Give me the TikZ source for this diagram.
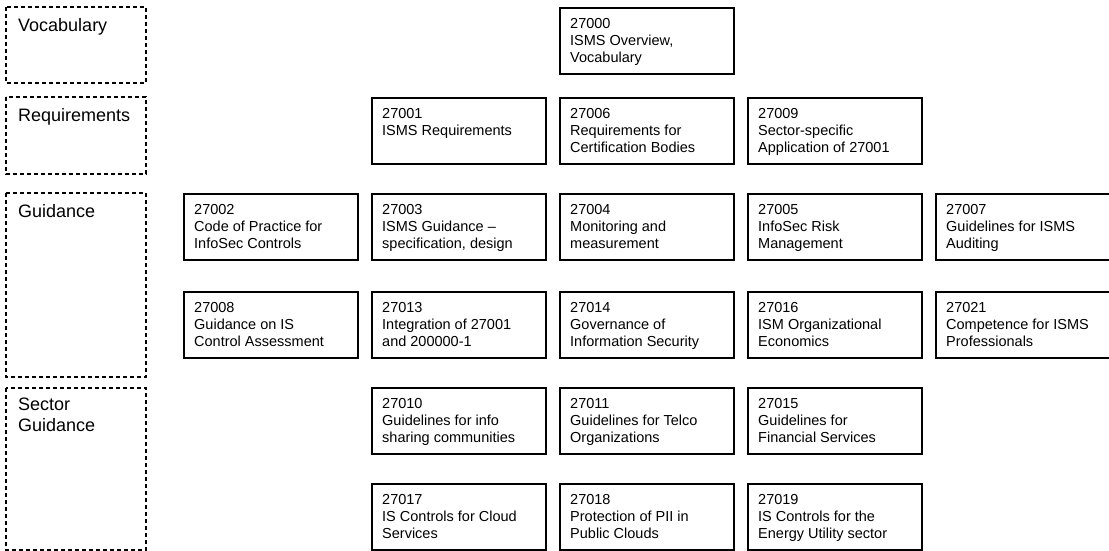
\documentclass[tikz,border=0pt]{standalone}
\usepackage{fontspec}
\setmainfont{Liberation Sans}
\usetikzlibrary{calc}
\tikzset{
    group box/.style={draw, line width=1.5pt, dash pattern=on 4pt off 3pt},
    group text/.style={anchor=north west, align=left, inner sep=0pt,
        font=\fontsize{18}{21}\selectfont, execute at begin node=\strut},
    std box/.style={draw, line width=1.6pt, anchor=north west, inner sep=0pt,
        minimum width=174pt, minimum height=66pt},
    std text/.style={anchor=north west, align=left, inner sep=0pt,
        font=\fontsize{14.5}{17}\selectfont, execute at begin node=\strut}
}

\begin{document}
\begin{tikzpicture}[x=1pt, y=-1pt]

\useasboundingbox (0,0) rectangle (1109,551);

% Grupos (columna izquierda)
\draw[group box] (6,7) rectangle (146,83);
\draw[group box] (6,97) rectangle (146,174);
\draw[group box] (6,193) rectangle (146,377);
\draw[group box] (6,388) rectangle (146,550);

\node[group text] (gvoc) at (18,17) {Vocabulary};
\node[group text] (greq) at (18,107) {Requirements};
\node[group text] (ggui) at (18,203) {Guidance};
\node[group text] (gsec) at (18,398) {Sector\\Guidance};

% Vocabulario
\node[std box] (b27000) at (559,7) {};
\node[std text] (t27000) at ($(b27000.north west)+(11,11)$) {27000\\ISMS Overview,\\Vocabulary};

% Requisitos
\node[std box] (b27001) at (371,97) {};
\node[std text] (t27001) at ($(b27001.north west)+(11,11)$) {27001\\ISMS Requirements};
\node[std box] (b27006) at (559,97) {};
\node[std text] (t27006) at ($(b27006.north west)+(11,11)$) {27006\\Requirements for\\Certification Bodies};
\node[std box] (b27009) at (747,97) {};
\node[std text] (t27009) at ($(b27009.north west)+(11,11)$) {27009\\Sector-specific\\Application of 27001};

% Guias
\node[std box] (b27002) at (183,193) {};
\node[std text] (t27002) at ($(b27002.north west)+(11,11)$) {27002\\Code of Practice for\\InfoSec Controls};
\node[std box] (b27003) at (371,193) {};
\node[std text] (t27003) at ($(b27003.north west)+(11,11)$) {27003\\ISMS Guidance --\\specification, design};
\node[std box] (b27004) at (559,193) {};
\node[std text] (t27004) at ($(b27004.north west)+(11,11)$) {27004\\Monitoring and\\measurement};
\node[std box] (b27005) at (747,193) {};
\node[std text] (t27005) at ($(b27005.north west)+(11,11)$) {27005\\InfoSec Risk\\Management};
\node[std box] (b27007) at (935,193) {};
\node[std text] (t27007) at ($(b27007.north west)+(11,11)$) {27007\\Guidelines for ISMS\\Auditing};

\node[std box] (b27008) at (183,291) {};
\node[std text] (t27008) at ($(b27008.north west)+(11,11)$) {27008\\Guidance on IS\\Control Assessment};
\node[std box] (b27013) at (371,291) {};
\node[std text] (t27013) at ($(b27013.north west)+(11,11)$) {27013\\Integration of 27001\\and 200000-1};
\node[std box] (b27014) at (559,291) {};
\node[std text] (t27014) at ($(b27014.north west)+(11,11)$) {27014\\Governance of\\Information Security};
\node[std box] (b27016) at (747,291) {};
\node[std text] (t27016) at ($(b27016.north west)+(11,11)$) {27016\\ISM Organizational\\Economics};
\node[std box] (b27021) at (935,291) {};
\node[std text] (t27021) at ($(b27021.north west)+(11,11)$) {27021\\Competence for ISMS\\Professionals};

% Guias sectoriales
\node[std box] (b27010) at (371,387) {};
\node[std text] (t27010) at ($(b27010.north west)+(11,11)$) {27010\\Guidelines for info\\sharing communities};
\node[std box] (b27011) at (559,387) {};
\node[std text] (t27011) at ($(b27011.north west)+(11,11)$) {27011\\Guidelines for Telco\\Organizations};
\node[std box] (b27015) at (747,387) {};
\node[std text] (t27015) at ($(b27015.north west)+(11,11)$) {27015\\Guidelines for\\Financial Services};

\node[std box] (b27017) at (371,483) {};
\node[std text] (t27017) at ($(b27017.north west)+(11,11)$) {27017\\IS Controls for Cloud\\Services};
\node[std box] (b27018) at (559,483) {};
\node[std text] (t27018) at ($(b27018.north west)+(11,11)$) {27018\\Protection of PII in\\Public Clouds};
\node[std box] (b27019) at (747,483) {};
\node[std text] (t27019) at ($(b27019.north west)+(11,11)$) {27019\\IS Controls for the\\Energy Utility sector};

\end{tikzpicture}
\end{document}
